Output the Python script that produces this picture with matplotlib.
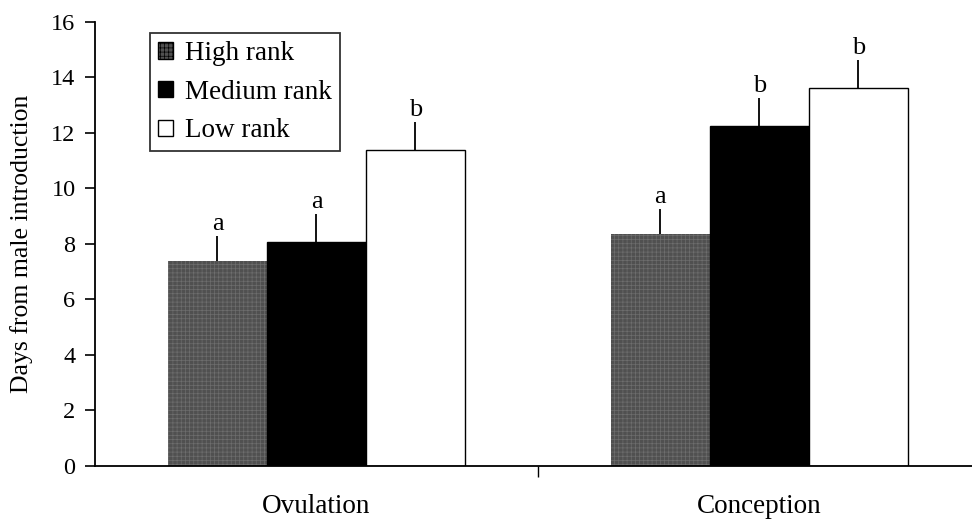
import numpy as np
import matplotlib
matplotlib.use("Agg")
import matplotlib.pyplot as plt

plt.rcParams['font.family'] = ['Liberation Serif', 'DejaVu Serif']
plt.rcParams['hatch.linewidth'] = 0.5

events = ["Ovulation", "Conception"]
ranks = ["High rank", "Medium rank", "Low rank"]
means = {
    "High rank": [7.38, 8.35],
    "Medium rank": [8.08, 12.25],
    "Low rank": [11.4, 13.62],
}
sem = {
    "High rank": [0.92, 0.92],
    "Medium rank": [1.0, 1.0],
    "Low rank": [1.0, 1.0],
}
letters = {
    "High rank": ["a", "a"],
    "Medium rank": ["a", "b"],
    "Low rank": ["b", "b"],
}

fill = {"High rank": "#505050", "Medium rank": "black", "Low rank": "white"}
hatch = {"High rank": "++++", "Medium rank": None, "Low rank": None}

fig = plt.figure(figsize=(9.72, 5.22), dpi=100)
ax = fig.add_axes([0.0977, 0.1073, 0.9023, 0.8506])

x = np.arange(len(events))
w = 0.2235
for i, r in enumerate(ranks):
    xs = x + (i - 1) * w
    bars = ax.bar(xs, means[r], w, color=fill[r], edgecolor="black", linewidth=1.0,
                  hatch=hatch[r], label=r, zorder=2)
    if hatch[r]:
        for b in bars:
            b.set_edgecolor("#6e6e6e")
            b.set_linewidth(0.0)
    tops = np.array(means[r]) + np.array(sem[r])
    ax.vlines(xs, means[r], tops, color="black", linewidth=1.3, zorder=3)
    for xi, t, s in zip(xs, tops, letters[r]):
        ax.text(xi, t + 0.22, s, ha="center", va="baseline", fontsize=19)

ax.set_ylim(0, 16)
ax.set_xlim(-0.5, 1.48)
ax.set_yticks(np.arange(0, 17, 2))
ax.set_xticks(x)
ax.set_xticklabels(events)
ax.set_xticks([0.5], minor=True)
ax.tick_params(axis="x", which="major", length=0, pad=20, labelsize=19.5)
ax.tick_params(axis="x", which="minor", length=8, width=1.0, direction="out")
ax.tick_params(axis="y", length=7, width=1.2, direction="out", labelsize=17.5, pad=7)
for s in ["top", "right"]:
    ax.spines[s].set_visible(False)
ax.spines["left"].set_linewidth(1.3)
ax.spines["bottom"].set_linewidth(1.3)

ax.set_ylabel("Days from male introduction", fontsize=18.5)
ax.yaxis.set_label_coords(-0.071, 0.5)

leg = ax.legend(loc="upper left", bbox_to_anchor=(0.0625, 0.975), fontsize=19.5,
                frameon=True, fancybox=False, edgecolor="black",
                handlelength=0.55, handleheight=0.55, handletextpad=0.44,
                borderpad=0.3, labelspacing=0.5, borderaxespad=0)
leg.get_frame().set_linewidth(1.3)
for h in leg.legend_handles:
    h.set_edgecolor("black")
    h.set_linewidth(1.0)

fig.savefig("out.png", dpi=100)
